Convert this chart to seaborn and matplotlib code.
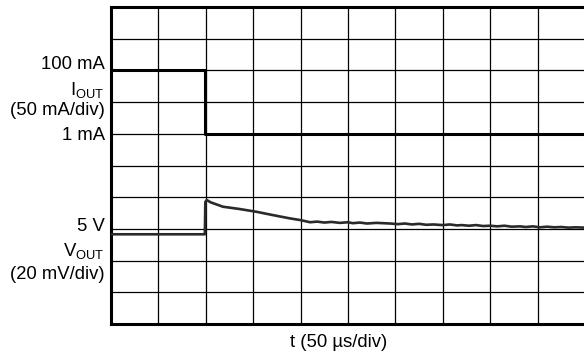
import matplotlib
matplotlib.use("Agg")
import matplotlib.pyplot as plt
import matplotlib.transforms as mtransforms
import seaborn as sns
import pandas as pd

# ---- data (in screen divisions, 10 x 10 grid) ----
iout_t = [0.0, 1.98, 1.98, 10.0]
iout_v = [8.0, 8.0, 6.0, 6.0]

vout_t = [0.0, 1.98, 1.99, 2.02, 2.10, 2.36, 2.70, 3.07, 3.40, 3.78, 3.99, 4.20,
          4.35, 4.50, 4.65, 4.83, 5.00, 5.10, 5.25, 5.40, 5.60, 5.89, 6.05,
          6.20, 6.35, 6.50, 6.65, 6.80, 7.00, 7.15, 7.30, 7.40, 7.55, 7.70,
          7.85, 8.00, 8.15, 8.30, 8.45, 8.63, 8.75, 8.90, 9.05, 9.20, 9.35,
          9.50, 9.65, 9.80, 10.0]
vout_v = [2.83, 2.83, 3.85, 3.91, 3.84, 3.70, 3.63, 3.54, 3.44, 3.33, 3.28, 3.21,
          3.23, 3.20, 3.22, 3.19, 3.21, 3.18, 3.20, 3.17, 3.19, 3.17, 3.15,
          3.17, 3.14, 3.16, 3.13, 3.14, 3.12, 3.14, 3.11, 3.12, 3.10, 3.12,
          3.09, 3.10, 3.08, 3.10, 3.07, 3.08, 3.06, 3.08, 3.05, 3.07, 3.05,
          3.06, 3.04, 3.05, 3.04]

i_labels = ["100 mA", "I$_{\\mathrm{OUT}}$", "(50 mA/div)", "1 mA"]
i_label_y = [8.19, 7.38, 6.75, 5.96]
v_labels = ["5 V", "V$_{\\mathrm{OUT}}$", "(20 mV/div)"]
v_label_y = [3.06, 2.29, 1.55]
x_label = "t (50 \u00b5s/div)"

sns.set_theme(style="white")
plt.rcParams["font.family"] = ["Liberation Sans", "DejaVu Sans"]
plt.rcParams["mathtext.fontset"] = "custom"
plt.rcParams["mathtext.rm"] = "Liberation Sans"
plt.rcParams["mathtext.it"] = "Liberation Sans"

fig = plt.figure(figsize=(5.84, 3.58), dpi=100)
ax = fig.add_axes([111 / 584, 34 / 358, 474 / 584, 317 / 358])

df_i = pd.DataFrame({"t": iout_t, "v": iout_v})
df_v = pd.DataFrame({"t": vout_t, "v": vout_v})

sns.lineplot(data=df_i, x="t", y="v", ax=ax, estimator=None, sort=False,
             color="black", lw=2.2, zorder=5)
sns.lineplot(data=df_v, x="t", y="v", ax=ax, estimator=None, sort=False,
             color="#2a2a2a", lw=1.9, zorder=5)

ax.set_xlim(0, 10)
ax.set_ylim(0, 10)
ax.set_xticks(range(0, 11))
ax.set_yticks(range(0, 11))
ax.grid(True, color="black", lw=0.9)
ax.tick_params(length=0, labelbottom=False, labelleft=False)
ax.set_xlabel("")
ax.set_ylabel("")
for side in ["left", "top", "bottom"]:
    ax.spines[side].set_visible(True)
    ax.spines[side].set_color("black")
    ax.spines[side].set_linewidth(2.2)
ax.spines["right"].set_visible(False)

trans = mtransforms.blended_transform_factory(ax.transAxes, ax.transData)
for lab, y in zip(i_labels, i_label_y):
    ax.text(-0.013, y, lab, transform=trans, ha="right", va="center",
            fontsize=13.3, color="black")
for lab, y in zip(v_labels, v_label_y):
    ax.text(-0.013, y, lab, transform=trans, ha="right", va="center",
            fontsize=13.3, color="black")

ax.text(0.481, -0.057, x_label, transform=ax.transAxes, ha="center",
        va="center", fontsize=13.3, color="black")

fig.savefig("out.png", dpi=100)
